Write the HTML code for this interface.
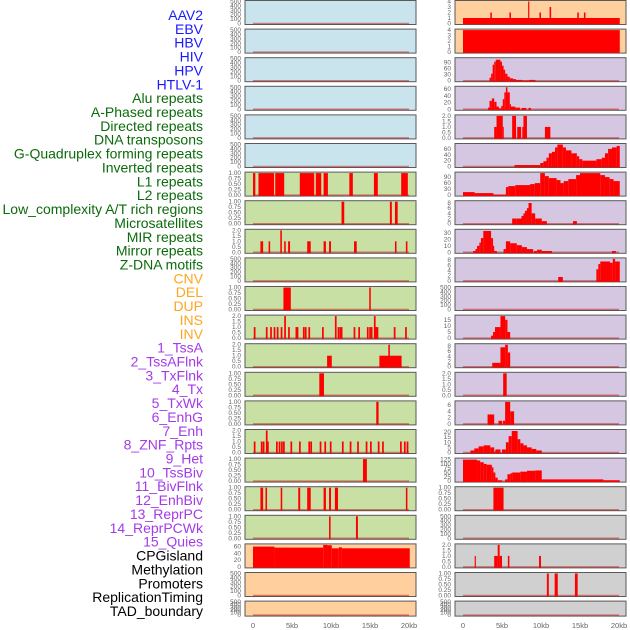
<!DOCTYPE html>
<html><head><meta charset="utf-8"><style>
html,body{margin:0;padding:0;background:#fff;width:630px;height:630px;overflow:hidden}
svg{display:block;font-family:"Liberation Sans",sans-serif}
</style></head><body>
<svg id="chart" width="630" height="630" viewBox="0 0 630 630" xmlns="http://www.w3.org/2000/svg"></svg>
<script>
// ---- data ----
const trackLabels = ["AAV2","EBV","HBV","HIV","HPV","HTLV-1","Alu repeats","A-Phased repeats","Directed repeats","DNA transposons","G-Quadruplex forming repeats","Inverted repeats","L1 repeats","L2 repeats","Low_complexity A/T rich regions","Microsatellites","MIR repeats","Mirror repeats","Z-DNA motifs","CNV","DEL","DUP","INS","INV","1_TssA","2_TssAFlnk","3_TxFlnk","4_Tx","5_TxWk","6_EnhG","7_Enh","8_ZNF_Rpts","9_Het","10_TssBiv","11_BivFlnk","12_EnhBiv","13_ReprPC","14_ReprPCWk","15_Quies","CPGisland","Methylation","Promoters","ReplicationTiming","TAD_boundary"];
const labelGroups = [6,13,5,15,5];
const xTickLabels = ["0","5kb","10kb","15kb","20kb"];
const xTickValues = [0,5,10,15,20];

const leftBg = ["b","b","b","b","b","b","g","g","g","g","g","g","g","g","g","g","g","g","g","o","o","o"];
const rightBg = ["o","o","p","p","p","p","p","p","p","p","p","p","p","p","p","p","p","y","y","y","y","y"];
const leftTicks = ["K","K","K","K","K","K","U","U","T","K","U","T","T","U","U","T","U","U","U",[0,20,40,60],"K","K"];
const rightTicks = [[0,1,2,3,4],[0,1,2,3,4],[0,30,60,90],[0,20,40,60],"T",[0,20,40,60],[0,30,60,90],[0,2,4,6,8],[0,10,20,30],[0,2,4,6,8],"K",[0,5,10,15],[0,2,4,6,8],"T",[0,2,4,6],[0,5,10,15,20],[0,25,50,75,100,125],"U","K","T","U","K"];
const leftMax = [500,500,500,500,500,500,1,1,2,500,1,2,2,1,1,2,1,1,1,65,500,500];
const rightMax = [4,4,110,65,2,75,110,8.5,34,8.5,500,18,8.5,2,7,21.5,128,1,500,2,1,500];

// segments: [startKb, endKb, value]
const L6 = [[0,0.3,1],[0.7,2.7,1],[2.85,4.0,1],[6.0,7.85,1],[8.05,8.75,1],[9.05,9.6,1],[12.35,12.8,1],[15.5,16.0,1],[19.0,19.85,1]];
const L7 = [[11.35,11.7,1],[17.55,17.8,1],[18.2,18.55,1]];
const L8 = [[0.95,1.3,1],[2.0,2.2,1],[3.5,3.7,2],[4.0,4.2,1],[4.5,4.75,1],[6.95,7.4,1],[9.05,9.35,1],[9.75,10.0,1],[12.95,13.3,1],[18.2,18.4,1],[19.6,19.8,1]];
const L10 = [[3.9,4.85,1],[14.9,15.1,1]];
const L11pos = [0.1,1.65,2.2,2.65,3.05,3.55,4.0,4.5,5.45,5.6,6.4,6.65,7.1,8.85,10.5,10.85,11.1,11.25,12.9,13.5,14.6,14.9,15.1,15.5,15.7,15.85,18.05,19.5];
const L11val = [1,1,1,1,1,1,2,1,1,1,1,1,1,1,2,1,1,1,1,1,1,1,1,2,1,1,1,1];
const L12 = [[9.5,10.1,1],[16.2,19.05,1],[17.35,17.55,2]];
const L13 = [[8.5,9.1,1]];
const L14 = [[15.8,16.1,1]];
const L15pos = [0.1,1.0,1.25,1.65,1.8,2.95,3.3,3.6,3.85,4.8,5.9,7.1,7.35,8.55,9.15,9.85,11.4,12.4,13.35,14.45,15.0,16.0,16.55,18.85,19.35,19.7];
const L15val = [1,1,1,2,1,1,1,1,1,1,1,1,1,1,1,1,1,1,1,1,1,1,1,1,1,1];
const L16 = [[14.1,14.6,1]];
const L17 = [[0.95,1.3,1],[1.6,1.8,1],[3.55,3.75,1],[5.8,6.05,1],[6.95,7.4,1],[9.05,9.35,1],[9.75,10.0,1],[10.5,10.9,1],[19.6,19.8,1]];
const L18 = [[9.75,9.95,1],[13.2,13.45,1]];
const L19 = [[0,2.75,60],[2.75,9.0,57],[9.0,9.55,65],[9.55,10.1,64],[10.1,11.0,55],[11.0,11.4,58],[11.4,20.1,55]];

const R0 = [[0,20.1,1],[3.5,3.7,2],[5.95,6.15,2],[8.35,8.5,4],[9.8,10.0,2],[11.1,11.3,3],[14.65,14.85,2],[15.5,15.7,2]];
const R1 = [[0,20.1,4]];
const R2 = [[3.4,3.6,15],[3.6,3.8,35],[3.8,4.0,80],[4.0,4.2,95],[4.2,4.8,105],[4.8,5.0,95],[5.0,5.2,75],[5.2,5.4,55],[5.4,5.7,35],[5.7,6.0,20],[6.0,6.4,12],[6.4,6.8,8],[6.8,7.6,4],[7.6,8.5,1],[8.5,9.3,4]];
const R3 = [[3.2,3.4,5],[3.4,3.7,25],[3.7,4.0,32],[4.0,4.3,22],[4.3,4.6,8],[4.6,4.9,3],[4.9,5.1,10],[5.1,5.3,30],[5.3,5.5,50],[5.5,5.7,65],[5.7,6.0,50],[6.0,6.15,15],[6.15,6.7,8],[6.7,7.3,5],[7.5,8.1,4],[8.4,8.7,4]];
const R4 = [[4.0,4.3,1],[4.3,5.1,2],[5.1,5.2,1],[6.3,6.8,2],[6.95,7.45,1],[7.6,7.75,1],[7.75,8.2,2],[10.5,11.2,1]];
const R5 = [[6.6,9.9,5],[9.9,10.3,12],[10.3,10.7,18],[10.7,11.0,30],[11.0,11.4,45],[11.4,11.8,50],[11.8,12.1,65],[12.1,12.8,75],[12.8,13.2,65],[13.2,13.9,55],[13.9,14.6,45],[14.6,14.9,35],[14.9,15.3,25],[15.3,17.1,20],[17.1,17.8,25],[17.8,18.2,30],[18.2,18.6,45],[18.6,19.1,60],[19.1,19.7,65],[19.7,20.1,70]];
const R6 = [[0,1.5,15],[1.5,3.9,10],[3.9,5.5,2],[5.5,5.8,40],[5.8,6.7,45],[6.7,8.6,50],[8.6,9.2,55],[9.2,9.9,60],[9.9,10.5,110],[10.5,11.0,95],[11.0,12.0,85],[12.0,12.5,75],[12.5,12.9,60],[12.9,13.5,70],[13.5,14.5,80],[14.5,15.0,100],[15.0,17.6,110],[17.6,18.2,100],[18.2,18.8,90],[18.8,19.3,80],[19.3,20.1,70]];
const R7 = [[6.3,6.9,2],[6.9,7.5,2],[7.5,7.75,3],[7.75,7.95,4],[7.95,8.2,5],[8.2,8.4,6],[8.4,8.8,8],[8.8,9.25,4],[9.25,10.1,2],[10.1,10.75,1],[14.1,14.6,1]];
const R8 = [[1.3,1.6,2],[1.6,1.8,5],[1.8,2.1,10],[2.1,2.3,15],[2.3,2.6,22],[2.6,3.6,33],[3.6,3.85,22],[3.85,4.0,10],[4.0,4.35,2],[5.2,5.5,5],[5.5,6.05,17],[6.05,6.9,14],[6.9,7.55,11],[7.55,8.2,8],[8.2,9.0,5],[9.1,9.5,2],[9.5,10.1,4],[10.1,11.4,2],[19.1,19.6,2]];
const R9 = [[12.2,12.8,1.5],[17.1,17.35,4.5],[17.35,17.6,6.5],[17.6,18.85,7.5],[18.85,19.2,7],[19.2,19.5,8.5],[19.5,20.1,7.5]];
const R11 = [[3.6,3.85,2],[3.85,4.1,5],[4.1,4.8,9],[4.8,5.4,18],[5.4,5.7,15],[5.7,6.05,5]];
const R12 = [[3.75,4.8,1.5],[4.8,5.4,7.5],[5.4,5.75,8.5],[5.75,6.05,5.5]];
const R13 = [[5.15,5.6,2]];
const R14 = [[3.15,4.0,3],[4.55,5.0,1],[5.1,5.4,1],[5.4,6.05,7],[6.05,6.55,4]];
const R15 = [[0.95,1.45,2],[1.45,2.0,4],[2.0,2.65,6],[2.65,3.5,7],[3.5,4.0,5],[4.0,4.15,1],[4.15,4.8,3],[5.0,5.5,3],[5.5,5.85,10],[5.85,6.25,16],[6.25,7.0,21],[7.0,7.35,13],[7.35,7.75,9],[7.75,8.2,7],[8.2,8.8,5],[8.8,9.4,3.5],[9.4,10.1,2]];
const R16 = [[0,1.8,125],[1.8,2.2,120],[2.2,2.65,110],[2.65,3.05,100],[3.05,3.7,95],[3.7,3.9,80],[3.9,4.15,50],[4.15,4.45,20],[4.45,5.0,5],[5.4,5.7,10],[5.7,6.05,40],[6.05,6.3,45],[6.3,7.35,50],[7.35,8.2,55],[8.2,9.25,60],[9.25,10.1,62],[10.1,18.0,10],[18.0,20.1,5]];
const R17 = [[3.9,5.2,1]];
const R19 = [[1.5,1.65,1],[4.0,4.45,1],[4.45,4.7,2],[4.7,5.0,1],[5.75,5.95,1],[9.75,10.0,1]];
const R20 = [[10.75,11.0,1],[11.75,12.15,1],[14.35,14.7,1]];

function spikes(pos, val){ return pos.map((p,i)=>[p,p+0.22,val[i]]); }
const leftSegs = [[],[],[],[],[],[],L6,L7,L8,[],L10,spikes(L11pos,L11val),L12,L13,L14,spikes(L15pos,L15val),L16,L17,L18,L19,[],[]];
const rightSegs = [R0,R1,R2,R3,R4,R5,R6,R7,R8,R9,[],R11,R12,R13,R14,R15,R16,R17,[],R19,R20,[]];

// ---- drawing ----
const NS="http://www.w3.org/2000/svg";
const svg=document.getElementById('chart');
const bgColors={b:"#c9e4ec",g:"#c9e0a4",o:"#ffcf9e",p:"#d5c6e2",y:"#d0d0d0"};
const labelColors=["#1a1aff","#0b6b0b","#ffa520","#a33be8","#000000"];
function mk(tag,attrs){const e=document.createElementNS(NS,tag);for(const k in attrs)e.setAttribute(k,attrs[k]);svg.appendChild(e);return e;}

// labels
let gi=0,cnt=0;
trackLabels.forEach((t,i)=>{
  while(cnt>=labelGroups[gi]){cnt=0;gi++;}
  cnt++;
  const e=mk('text',{x:203,y:20+13.86*i,'text-anchor':'end','font-size':14,fill:labelColors[gi]});
  e.textContent=t;
  
  
});

const cols=[{x0:245,x1:416,d0:253,d1:409,tx:241,side:'left'},{x0:455,x1:626,d0:463,d1:619,tx:451,side:'right'}];
function tickSet(spec){
  if(spec==="K")return [[0,"0"],[100,"100"],[200,"200"],[300,"300"],[400,"400"],[500,"500"]];
  if(spec==="U")return [0,0.25,0.5,0.75,1].map(v=>[v,v.toFixed(2)]);
  if(spec==="T")return [0,0.5,1,1.5,2].map(v=>[v,v.toFixed(1)]);
  return spec.map(v=>[v,String(v)]);
}
for(let r=0;r<22;r++){
  const top=28.6*r, h=(r===21)?16:25;
  cols.forEach((c,ci)=>{
    const bg=ci===0?leftBg[r]:rightBg[r];
    const ymax=ci===0?leftMax[r]:rightMax[r];
    const segs=ci===0?leftSegs[r]:rightSegs[r];
    const ticks=tickSet(ci===0?leftTicks[r]:rightTicks[r]);
    const xs=kb=>c.d0+(kb/20)*(c.d1-c.d0);
    const ys=v=>top+h-1.5-(v/ymax)*(h-3);
    const rect=mk('rect',{x:c.x0,y:top+0.5,width:c.x1-c.x0,height:h-1,fill:bgColors[bg],stroke:"#5a5a5a",'stroke-width':1});
    
    
    const base=mk('line',{x1:xs(0),x2:xs(20),y1:ys(0),y2:ys(0),stroke:"rgba(190,0,0,0.45)",'stroke-width':1.5});
    
    
    segs.forEach(s=>{
      const b=mk('rect',{x:xs(s[0]),y:ys(s[2]),width:Math.max(1,xs(s[1])-xs(s[0])),height:ys(0)-ys(s[2])+0.8,fill:"#ff0000"});
      
      
    });
    ticks.forEach(t=>{
      const y=ys(t[0]);
      const tt=mk('text',{x:c.tx,y:y+2,'text-anchor':'end','font-size':6.5,fill:"#666"});
      tt.textContent=t[1];
      
      
    });
  });
}
cols.forEach(c=>{
  xTickValues.forEach((v,i)=>{
    const t=mk('text',{x:c.d0+(v/20)*(c.d1-c.d0),y:628,'text-anchor':'middle','font-size':7.5,fill:"#666"});
    t.textContent=xTickLabels[i];
    
    
  });
});
</script>
</body></html>
